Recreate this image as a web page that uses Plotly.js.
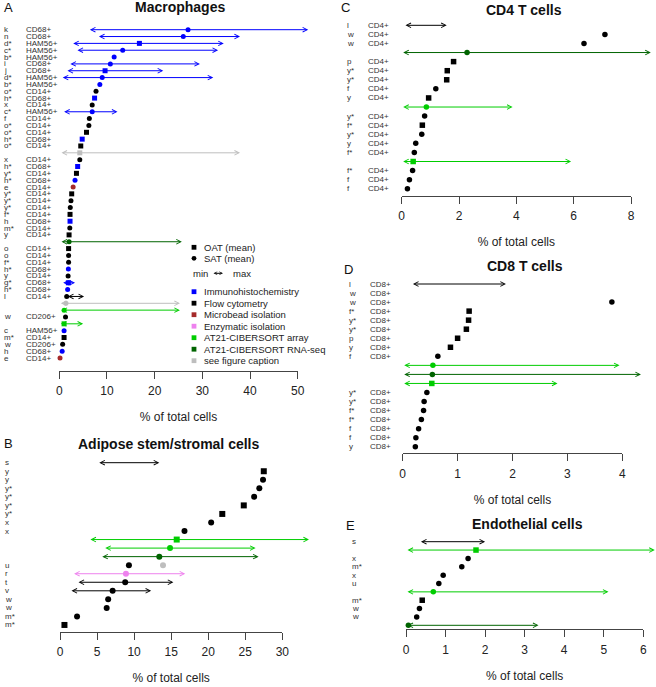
<!DOCTYPE html>
<html><head><meta charset="utf-8">
<script src="https://cdn.plot.ly/plotly-3.0.1.min.js"></script>
<style>html,body{margin:0;padding:0;background:#fff}#chart{width:656px;height:687px}</style>
</head><body><div id="chart"></div>
<script>
// ---------------- DATA ----------------
// Method legend
const methodCodes  = ['IHC','FC','MB','ENZ','ARR','RNA','CAP'];
const methodNames  = ['Immunohistochemistry','Flow cytometry','Microbead isolation','Enzymatic isolation','AT21-CIBERSORT array','AT21-CIBERSORT RNA-seq','see figure caption'];
const methodColors = ['#0000ff','#000000','#a52a2a','#ee82ee','#00cd00','#006400','#bebebe'];

// Panel A: Macrophages
const aLetter = ['k','n','d*','c*','b*','i','j','d*','b*','o*','h*','x','c*','f','o*','o*','h*','o*','','x','h*','y*','h*','e','y*','y*','y*','f*','h','m*','y','','o','o','f*','h*','y','g*','h*','l','','','w','','c','m*','w','h','e'];
const aMarker = ['CD68+','CD68+','HAM56+','HAM56+','HAM56+','CD68+','CD68+','HAM56+','HAM56+','CD14+','CD68+','CD14+','HAM56+','CD14+','CD14+','CD14+','CD68+','CD14+','','CD14+','CD68+','CD14+','CD68+','CD14+','CD14+','CD14+','CD14+','CD14+','CD68+','CD14+','CD14+','','CD14+','CD14+','CD14+','CD68+','CD14+','CD68+','CD68+','CD14+','','','CD206+','','HAM56+','CD14+','CD206+','CD68+','CD14+'];
const aMean   = [27.0,26.0,16.8,13.3,11.5,10.7,9.6,9.0,8.5,7.7,7.4,6.9,6.9,6.3,6.2,5.7,4.8,4.5,4.3,4.3,3.85,3.6,3.3,2.9,2.6,2.45,2.3,2.25,2.25,2.2,2.05,2.05,1.95,1.95,1.95,1.9,1.85,1.9,1.75,1.55,1.4,1.0,1.3,1.0,1.0,1.0,0.7,0.6,0.15];
const aStudy  = ['SAT','SAT','OAT','SAT','SAT','SAT','OAT','SAT','SAT','SAT','OAT','SAT','SAT','SAT','SAT','OAT','OAT','OAT','OAT','SAT','OAT','OAT','SAT','SAT','OAT','SAT','SAT','OAT','OAT','SAT','OAT','SAT','OAT','SAT','SAT','SAT','SAT','OAT','SAT','SAT','SAT','SAT','SAT','OAT','SAT','OAT','SAT','SAT','SAT'];
const aMethod = ['IHC','IHC','IHC','IHC','IHC','IHC','IHC','IHC','IHC','FC','IHC','FC','IHC','FC','FC','FC','IHC','FC','CAP','FC','IHC','FC','IHC','MB','FC','FC','FC','FC','IHC','FC','FC','RNA','FC','FC','FC','IHC','FC','IHC','IHC','FC','CAP','ARR','FC','ARR','IHC','FC','FC','IHC','MB'];
const aMin    = [6.1,8.0,2.6,3.5,null,2.0,1.4,0.4,null,null,null,null,0.7,null,null,null,null,null,0.15,null,null,null,null,null,null,null,null,null,null,null,null,0.15,null,null,null,null,null,0.5,null,1.5,0.0,0.15,null,0.0,null,null,null,null,null];
const aMax    = [52.2,37.9,34.5,33.3,null,29.5,21.8,32.3,null,null,null,null,12.2,null,null,null,null,null,37.9,null,null,null,null,null,null,null,null,null,null,null,null,25.7,null,null,null,null,null,3.3,null,5.2,25.3,25.3,null,5.0,null,null,null,null,null];

// Panel B: Adipose stem/stromal cells
const bLetter = ['s','y','y','y*','y*','y*','y*','x','x','','','','u','r','t','v','w','w','m*','m*'];
const bMean   = [null,27.5,27.4,26.9,26.2,24.8,21.9,20.4,16.8,15.75,14.85,13.4,9.3,8.9,8.8,7.1,6.5,6.3,2.3,0.6];
const bStudy  = ['SAT','OAT','SAT','SAT','SAT','OAT','OAT','SAT','SAT','OAT','SAT','SAT','SAT','SAT','SAT','SAT','SAT','SAT','SAT','OAT'];
const bMethod = ['FC','FC','FC','FC','FC','FC','FC','FC','FC','ARR','ARR','RNA','FC','ENZ','FC','FC','FC','FC','FC','FC'];
const bMin    = [5.1,null,null,null,null,null,null,null,null,3.9,5.9,5.5,null,1.7,2.3,1.35,null,null,null,null];
const bMax    = [13.4,null,null,null,null,null,null,null,null,33.6,26.4,26.8,null,16.9,15.3,12.3,null,null,null,null];
// second estimate shown on the "u" row
const bExtraRow    = [12];
const bExtraMean   = [13.9];
const bExtraStudy  = ['SAT'];
const bExtraMethod = ['CAP'];

// Panel C: CD4 T cells
const cLetter = ['l','w','w','','p','y*','y*','f','y','','y*','f*','y*','y','f*','','f*','f','f'];
const cMarker = ['CD4+','CD4+','CD4+','','CD4+','CD4+','CD4+','CD4+','CD4+','','CD4+','CD4+','CD4+','CD4+','CD4+','','CD4+','CD4+','CD4+'];
const cMean   = [null,7.09,6.36,2.28,1.81,1.59,1.57,1.19,0.94,0.86,0.80,0.72,0.70,0.49,0.44,0.40,0.38,0.27,0.20];
const cStudy  = ['SAT','SAT','SAT','SAT','OAT','OAT','OAT','SAT','OAT','SAT','SAT','OAT','SAT','SAT','SAT','OAT','SAT','SAT','SAT'];
const cMethod = ['FC','FC','FC','RNA','FC','FC','FC','FC','FC','ARR','FC','FC','FC','FC','FC','ARR','FC','FC','FC'];
const cMin    = [0.08,null,null,0,null,null,null,null,null,0,null,null,null,null,null,0,null,null,null];
const cMax    = [1.57,null,null,8.69,null,null,null,null,null,3.87,null,null,null,null,null,5.91,null,null,null];

// Panel D: CD8 T cells
const dLetter = ['l','w','w','f*','y*','y*','p','y','f','','','','y*','y*','f*','f*','f','f','y'];
const dMarker = ['CD8+','CD8+','CD8+','CD8+','CD8+','CD8+','CD8+','CD8+','CD8+','','','','CD8+','CD8+','CD8+','CD8+','CD8+','CD8+','CD8+'];
const dMean   = [null,4.53,3.81,1.21,1.20,1.16,1.00,0.87,0.64,0.55,0.54,0.53,0.44,0.39,0.38,0.34,0.29,0.24,0.23];
const dStudy  = ['SAT','SAT','SAT','OAT','OAT','OAT','OAT','OAT','SAT','SAT','SAT','OAT','SAT','SAT','SAT','SAT','SAT','SAT','SAT'];
const dMethod = ['FC','FC','FC','FC','FC','FC','FC','FC','FC','ARR','RNA','ARR','FC','FC','FC','FC','FC','FC','FC'];
const dMin    = [0.16,null,null,null,null,null,null,null,null,0,0,0,null,null,null,null,null,null,null];
const dMax    = [1.88,null,null,null,null,null,null,null,null,3.95,4.34,2.82,null,null,null,null,null,null,null];

// Panel E: Endothelial cells
const eLetter = ['s','','x','m*','x','u','','m*','w','w',''];
const eMean   = [null,1.77,1.57,1.41,0.94,0.83,0.69,0.41,0.34,0.27,0.06];
const eStudy  = ['SAT','OAT','SAT','SAT','SAT','SAT','SAT','OAT','SAT','SAT','SAT'];
const eMethod = ['FC','ARR','FC','FC','FC','FC','ARR','FC','FC','FC','RNA'];
const eMin    = [0.34,0,null,null,null,null,0,null,null,null,0];
const eMax    = [2.0,6.29,null,null,null,null,5.12,null,null,null,3.35];

const xTitle = '% of total cells';

// ---------------- LAYOUT HELPERS ----------------
const W = 656, H = 687;
const FONT = '"Liberation Sans", Arial, Helvetica, sans-serif';
const colorOf = m => methodColors[methodCodes.indexOf(m)];
const symOf = s => s === 'OAT' ? 'square' : 'circle';

const panels = [
  {tag:'A', title:'Macrophages', letter:aLetter, marker:aMarker, mean:aMean, study:aStudy, method:aMethod, min:aMin, max:aMax,
   xmax:50, dtick:10, g:{x0:59.3, x1:297.7, row0:29.7, step:6.84, axis:371, top:22}, ms:5, fs:8, letterX:3, markerX:24.5, titleX:180, titleY:7.5, tagX:2, tagY:8},
  {tag:'B', title:'Adipose stem/stromal cells', letter:bLetter, marker:null, mean:bMean, study:bStudy, method:bMethod, min:bMin, max:bMax,
   xmax:30, dtick:5, g:{x0:60, x1:282.3, row0:462.7, step:8.54, axis:631.7, top:455}, ms:6, fs:8, letterX:4, markerX:null, titleX:169, titleY:443.5, tagX:2, tagY:443.5},
  {tag:'C', title:'CD4 T cells', letter:cLetter, marker:cMarker, mean:cMean, study:cStudy, method:cMethod, min:cMin, max:cMax,
   xmax:8, dtick:2, g:{x0:401.7, x1:631, row0:25.3, step:9.08, axis:196, top:18}, ms:5.5, fs:8, letterX:346, markerX:366.5, titleX:524, titleY:10, tagX:339, tagY:8},
  {tag:'D', title:'CD8 T cells', letter:dLetter, marker:dMarker, mean:dMean, study:dStudy, method:dMethod, min:dMin, max:dMax,
   xmax:4, dtick:1, g:{x0:402.7, x1:622.3, row0:284, step:9.04, axis:453.3, top:277}, ms:5.5, fs:8, letterX:347.5, markerX:368.5, titleX:525, titleY:266, tagX:342, tagY:269},
  {tag:'E', title:'Endothelial cells', letter:eLetter, marker:null, mean:eMean, study:eStudy, method:eMethod, min:eMin, max:eMax,
   xmax:6, dtick:1, g:{x0:406, x1:643.3, row0:541.7, step:8.36, axis:629.3, top:535}, ms:5.5, fs:8, letterX:350.5, markerX:null, titleX:527, titleY:523.5, tagX:344, tagY:525},
];

const traces = [];
const annotations = [];
const shapes = [];
const layout = {
  width: W, height: H, margin: {l:0, r:0, t:0, b:0},
  paper_bgcolor: '#fff', plot_bgcolor: '#fff',
  font: {family: FONT, color: '#222'},
  showlegend: false,
  annotations, shapes
};

panels.forEach((p, i) => {
  const n = i + 1;
  const suffix = n === 1 ? '' : String(n);
  const xa = 'x' + suffix, ya = 'y' + suffix;
  const g = p.g;
  const rows = p.mean.map((_, k) => k);
  layout['xaxis' + suffix] = {
    domain: [g.x0 / W, g.x1 / W], range: [0, p.xmax], anchor: ya,
    showline: true, linecolor: '#444', linewidth: 1,
    ticks: 'outside', ticklen: 7, tickwidth: 1, tickcolor: '#444',
    tick0: 0, dtick: p.dtick, showgrid: false, zeroline: false,
    tickfont: {size: 12, color: '#222'}, ticklabelstandoff: 2,
    title: {text: xTitle, font: {size: 12, color: '#222'}, standoff: 15},
    fixedrange: true
  };
  layout['yaxis' + suffix] = {
    domain: [1 - g.axis / H, 1 - g.top / H],
    range: [(g.axis - g.row0) / g.step, (g.top - g.row0) / g.step],
    anchor: xa, visible: false, fixedrange: true
  };
  // range arrows (min <-> max)
  rows.forEach(k => {
    if (p.min[k] === null || p.max[k] === null) return;
    annotations.push({
      xref: xa, yref: ya, axref: xa, ayref: ya,
      x: p.max[k], y: k, ax: p.min[k], ay: k, text: '',
      showarrow: true, arrowside: 'end+start', arrowhead: 5, startarrowhead: 5,
      arrowsize: 0.9, startarrowsize: 0.9, arrowwidth: 1,
      arrowcolor: colorOf(p.method[k]), font: {size: 1}
    });
  });
  // mean markers
  traces.push({
    type: 'scatter', mode: 'markers', xaxis: xa, yaxis: ya, cliponaxis: false,
    x: p.mean, y: rows, hoverinfo: 'skip',
    marker: {size: p.ms, symbol: p.study.map(symOf), color: p.method.map(colorOf), line: {width: 0}}
  });
  // row labels
  rows.forEach(k => {
    if (p.letter[k]) annotations.push({xref: 'paper', yref: ya, x: p.letterX / W, y: k, text: p.letter[k],
      showarrow: false, xanchor: 'left', yanchor: 'middle', borderpad: 0, font: {size: p.fs, color: '#333'}});
    if (p.marker && p.marker[k]) annotations.push({xref: 'paper', yref: ya, x: p.markerX / W, y: k, text: p.marker[k],
      showarrow: false, xanchor: 'left', yanchor: 'middle', borderpad: 0, font: {size: p.fs, color: '#333'}});
  });
  // panel title and tag
  annotations.push({xref: 'paper', yref: 'paper', x: p.titleX / W, y: 1 - p.titleY / H, text: '<b>' + p.title + '</b>',
    showarrow: false, xanchor: 'center', yanchor: 'middle', font: {size: 14, color: '#111'}});
  annotations.push({xref: 'paper', yref: 'paper', x: p.tagX / W, y: 1 - p.tagY / H, text: p.tag,
    showarrow: false, xanchor: 'left', yanchor: 'middle', font: {size: 13, color: '#111'}});
});

// extra estimate in panel B
traces.push({
  type: 'scatter', mode: 'markers', xaxis: 'x2', yaxis: 'y2', cliponaxis: false,
  x: bExtraMean, y: bExtraRow, hoverinfo: 'skip',
  marker: {size: 6, symbol: bExtraStudy.map(symOf), color: bExtraMethod.map(colorOf), line: {width: 0}}
});

// ---------------- LEGEND (panel A) ----------------
const legMarkX = 194, legTextX = 202, legFont = 9.5, half = 2.4;
function legShape(type, cy, color) {
  shapes.push({type, xref: 'paper', yref: 'paper', x0: (legMarkX - half) / W, x1: (legMarkX + half) / W,
    y0: 1 - (cy + half) / H, y1: 1 - (cy - half) / H, fillcolor: color, line: {width: 0}});
}
function legText(txt, x, cy) {
  annotations.push({xref: 'paper', yref: 'paper', x: x / W, y: 1 - cy / H, text: txt, showarrow: false,
    xanchor: 'left', yanchor: 'middle', font: {size: legFont, color: '#222'}});
}
legShape('rect', 247.3, '#000'); legText('OAT (mean)', legTextX, 247.3);
legShape('circle', 258.3, '#000'); legText('SAT (mean)', legTextX, 258.3);
legText('min', 191, 273.3); legText('max', 230.5, 273.3);
annotations.push({xref: 'paper', yref: 'paper', x: 223 / W, y: 1 - 273.3 / H, ax: -11, ay: 0, text: '',
  showarrow: true, arrowside: 'end+start', arrowhead: 5, startarrowhead: 5, arrowsize: 0.6, startarrowsize: 0.6,
  arrowwidth: 1, arrowcolor: '#000', font: {size: 1}});
const legStart = 291.7, legStep = 11.5;
methodNames.forEach((nm, k) => {
  const cy = legStart + k * legStep;
  legShape('rect', cy, methodColors[k]);
  legText(nm, legTextX, cy);
});

Plotly.newPlot('chart', traces, layout, {displayModeBar: false, staticPlot: true});
</script>
</body></html>
